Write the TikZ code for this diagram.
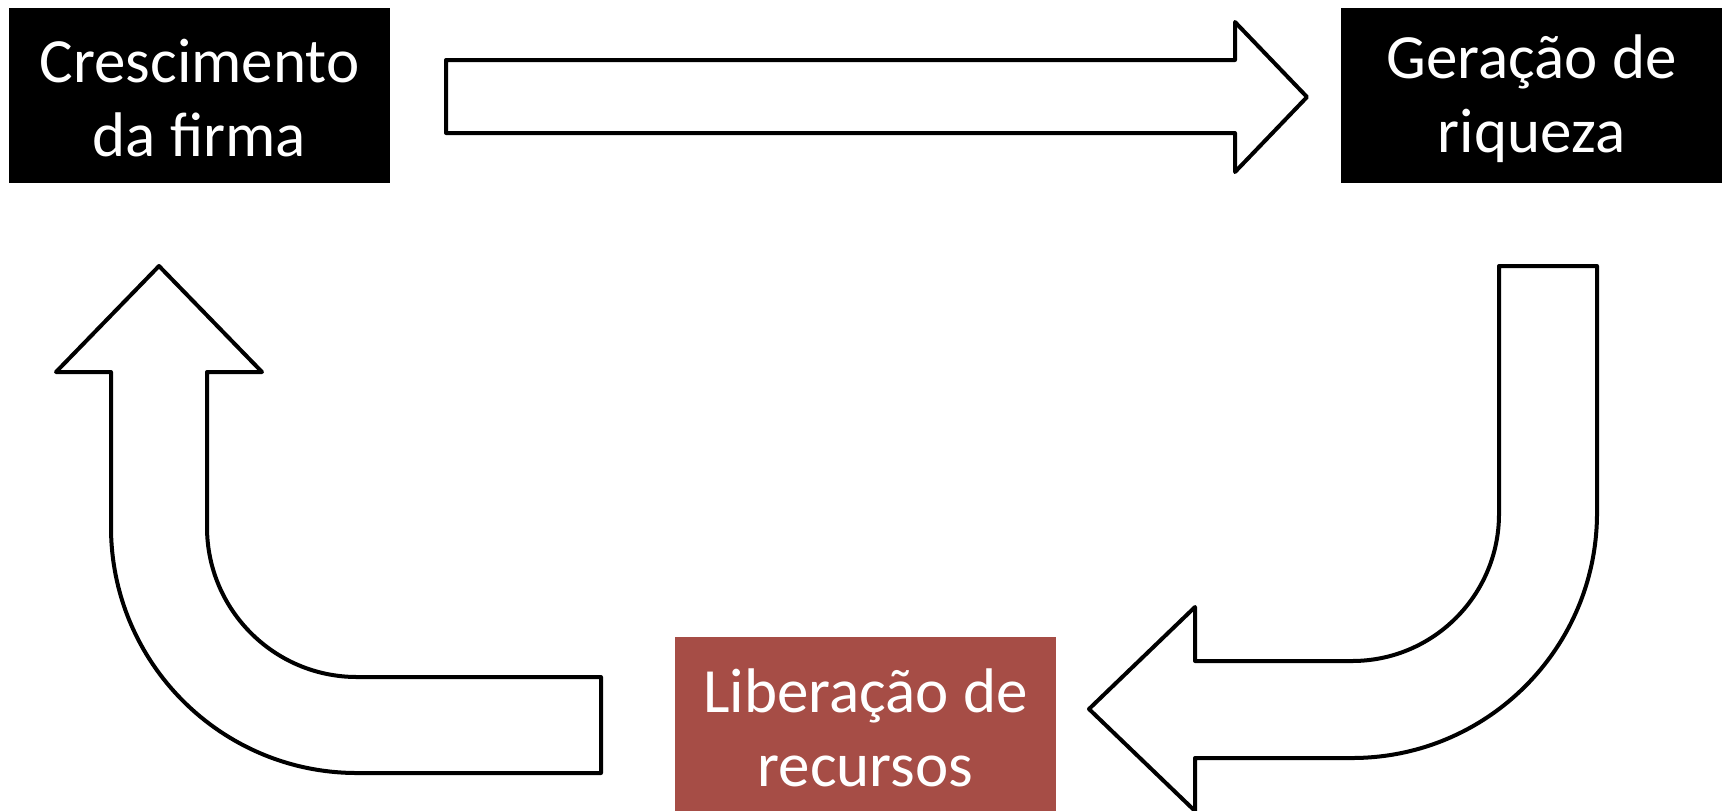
\documentclass[tikz,border=0pt]{standalone}
\usepackage{fontspec}
\setmainfont{Carlito}
\definecolor{boxred}{HTML}{A64D46}
\begin{document}
\begin{tikzpicture}[x=0.5pt,y=0.5pt,
  box/.style={inner sep=0pt,minimum width=190.5pt,minimum height=87.5pt},
  boxtext/.style={text=white,align=center,inner sep=0pt,yshift=-1.5pt,
    font=\fontsize{31.5pt}{37pt}\selectfont},
  blockarrow/.style={draw=black,fill=white,line width=2pt,line join=round}]
\useasboundingbox (0,0) rectangle (1723,-810);
\node[box,fill=black] (grow) at (199.5,-95.5) {};
\node[boxtext] (growtext) at (grow.center) {Crescimento\\da firma};
\node[box,fill=black] (wealth) at (1531.5,-95.5) {};
\node[boxtext] (wealthtext) at (wealth.center) {Geração de\\riqueza};
\node[box,fill=boxred] (release) at (865.5,-724.5) {};
\node[boxtext] (releasetext) at (release.center) {Liberação de\\recursos};
% top arrow: growth -> wealth
\draw[blockarrow] (446,-60) -- (1235,-60) -- (1235,-22) -- (1307,-97)
  -- (1235,-172) -- (1235,-133) -- (446,-133) -- cycle;
% right bent arrow: wealth -> release
\draw[blockarrow] (1499,-266) -- (1597,-266) -- (1597,-513) arc (0:-90:245)
  -- (1195,-758) -- (1195,-811) -- (1089,-709) -- (1195,-607) -- (1195,-661)
  -- (1352,-661) arc (-90:0:147) -- cycle;
% left bent arrow: release -> growth
\draw[blockarrow] (207,-527) arc (180:270:150) -- (601,-677) -- (601,-773)
  -- (357,-773) arc (270:180:246) -- (111,-372) -- (56,-372) -- (159,-266)
  -- (262,-372) -- (207,-372) -- cycle;
\end{tikzpicture}
\end{document}
